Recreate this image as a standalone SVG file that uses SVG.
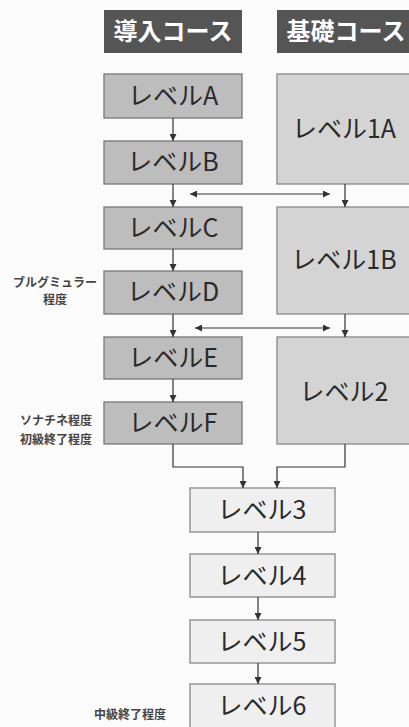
<svg xmlns="http://www.w3.org/2000/svg" width="409" height="727" viewBox="0 0 409 727">
<defs>
<marker id="ah" viewBox="0 0 10 10" refX="10" refY="5" markerWidth="7" markerHeight="7" markerUnits="userSpaceOnUse" orient="auto-start-reverse">
<path d="M0,0 L10,5 L0,10 z" fill="#333"/>
</marker>
<style>
.hd{fill:#555;}
.hdt{font-family:"Noto Sans CJK JP","Noto Sans",sans-serif;font-size:24px;font-weight:bold;fill:#fff;text-anchor:middle;}
.l{fill:#bdbdbd;stroke:#777;stroke-width:1.3;}
.r{fill:#d4d4d4;stroke:#888;stroke-width:1.3;}
.b{fill:#efefef;stroke:#888;stroke-width:1.3;}
.t{font-family:"Noto Sans CJK JP","Noto Sans",sans-serif;font-size:25px;fill:#2a2a2a;text-anchor:middle;}
.s{font-family:"Noto Sans CJK JP",sans-serif;font-size:12px;font-weight:bold;fill:#444;text-anchor:middle;}
.c{fill:none;stroke:#333;stroke-width:1.2;}
</style>
</defs>
<rect width="409" height="727" fill="#fbfbfb"/>
<g id="h1"><rect class="hd" x="104" y="10" width="138" height="43"/><text class="hdt" x="173" y="40">導入コース</text></g>
<g id="h2"><rect class="hd" x="277" y="10" width="140" height="43"/><text class="hdt" x="346" y="40">基礎コース</text></g>
<g id="A"><rect class="l" x="104" y="74" width="138" height="44"/><text class="t" x="173" y="105">レベルA</text></g>
<g id="B"><rect class="l" x="104" y="141" width="138" height="43"/><text class="t" x="173" y="171">レベルB</text></g>
<g id="C"><rect class="l" x="104" y="207" width="138" height="42"/><text class="t" x="173" y="237">レベルC</text></g>
<g id="D"><rect class="l" x="104" y="271" width="138" height="43"/><text class="t" x="173" y="301">レベルD</text></g>
<g id="E"><rect class="l" x="104" y="337" width="138" height="42"/><text class="t" x="173" y="367">レベルE</text></g>
<g id="F"><rect class="l" x="104" y="402" width="138" height="42"/><text class="t" x="173" y="432">レベルF</text></g>
<g id="L1A"><rect class="r" x="277" y="74" width="140" height="110"/><text class="t" x="344" y="138">レベル1A</text></g>
<g id="L1B"><rect class="r" x="277" y="207" width="140" height="107"/><text class="t" x="344" y="269">レベル1B</text></g>
<g id="L2"><rect class="r" x="277" y="337" width="140" height="107"/><text class="t" x="344" y="401">レベル2</text></g>
<g id="L3"><rect class="b" x="190" y="488" width="145" height="44"/><text class="t" x="262" y="519">レベル3</text></g>
<g id="L4"><rect class="b" x="190" y="554" width="145" height="43"/><text class="t" x="262" y="585">レベル4</text></g>
<g id="L5"><rect class="b" x="190" y="620" width="145" height="43"/><text class="t" x="262" y="651">レベル5</text></g>
<g id="L6"><rect class="b" x="190" y="684" width="145" height="44"/><text class="t" x="262" y="715">レベル6</text></g>
<g id="notes">
<text class="s" x="55" y="287" font-size="11">ブルグミュラー</text>
<text class="s" x="55" y="304" font-size="11">程度</text>
<text class="s" x="56" y="425">ソナチネ程度</text>
<text class="s" x="56" y="444">初級終了程度</text>
<text class="s" x="130" y="719">中級終了程度</text>
</g>
<g id="connectors">
<line class="c" x1="173" y1="118" x2="173" y2="141" marker-end="url(#ah)"/>
<line class="c" x1="173" y1="184" x2="173" y2="207" marker-end="url(#ah)"/>
<line class="c" x1="345" y1="184" x2="345" y2="207" marker-end="url(#ah)"/>
<line class="c" x1="190" y1="194" x2="330" y2="194" marker-start="url(#ah)" marker-end="url(#ah)"/>
<line class="c" x1="173" y1="249" x2="173" y2="271" marker-end="url(#ah)"/>
<line class="c" x1="173" y1="314" x2="173" y2="337" marker-end="url(#ah)"/>
<line class="c" x1="345" y1="314" x2="345" y2="337" marker-end="url(#ah)"/>
<line class="c" x1="195" y1="328" x2="330" y2="328" marker-start="url(#ah)" marker-end="url(#ah)"/>
<line class="c" x1="173" y1="379" x2="173" y2="402" marker-end="url(#ah)"/>
<polyline class="c" points="173,444 173,467 243,467 243,488" marker-end="url(#ah)"/>
<polyline class="c" points="345,444 345,467 277,467 277,488" marker-end="url(#ah)"/>
<line class="c" x1="258" y1="532" x2="258" y2="554" marker-end="url(#ah)"/>
<line class="c" x1="258" y1="597" x2="258" y2="620" marker-end="url(#ah)"/>
<line class="c" x1="258" y1="663" x2="258" y2="684" marker-end="url(#ah)"/>
</g>
</svg>
